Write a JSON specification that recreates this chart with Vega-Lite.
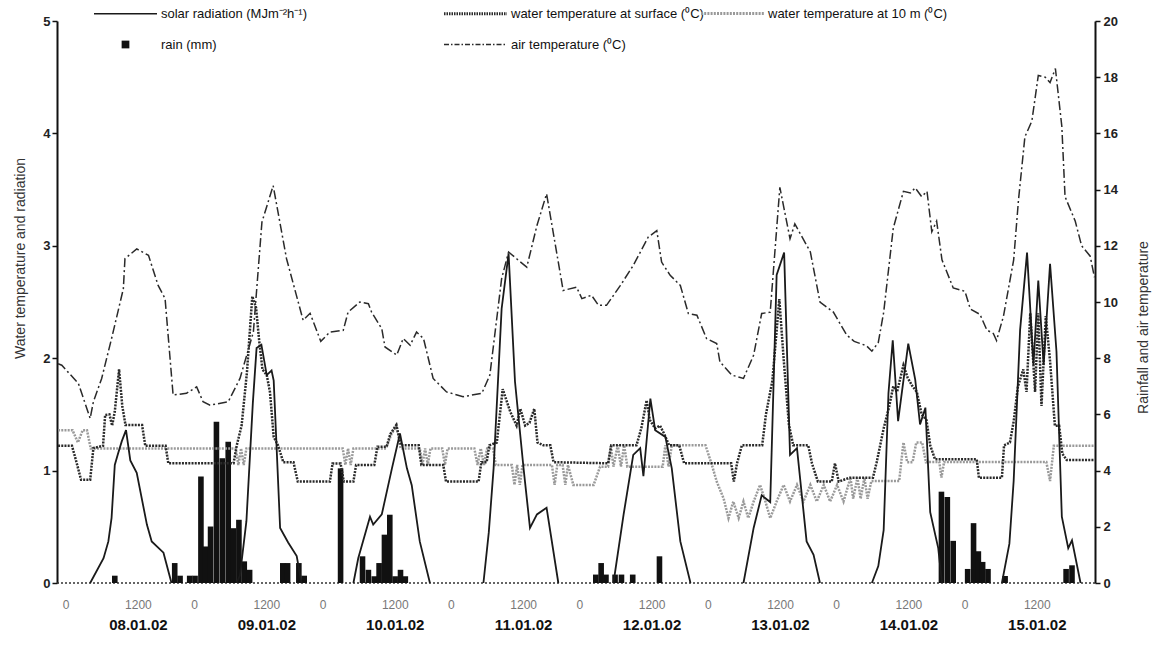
{
  "$schema": "https://vega.github.io/schema/vega-lite/v6.json",
  "width": 1038,
  "height": 562,
  "autosize": {"type": "none"},
  "padding": {"left": 57, "top": 21, "right": 58, "bottom": 72},
  "background": "white",
  "config": {"view": {"stroke": null}, "font": "Liberation Sans", "axis": {"grid": false}},
  "datasets": {
    "main": [
      {"s":"solar","d":1,"h":4.2,"val":0},{"s":"solar","d":1,"h":6.7,"val":0.22},{"s":"solar","d":1,"h":7.6,"val":0.37},{"s":"solar","d":1,"h":8.2,"val":0.58},{"s":"solar","d":1,"h":8.8,"val":1.05},{"s":"solar","d":1,"h":9.4,"val":1.15},{"s":"solar","d":1,"h":10.1,"val":1.26},{"s":"solar","d":1,"h":10.9,"val":1.36},{"s":"solar","d":1,"h":11.7,"val":1.09},{"s":"solar","d":1,"h":12.9,"val":0.98},{"s":"solar","d":1,"h":14.8,"val":0.52},{"s":"solar","d":1,"h":15.7,"val":0.37},{"s":"solar","d":1,"h":17.9,"val":0.27},{"s":"solar","d":1,"h":19.4,"val":0},
      {"s":"solar","d":2,"h":31.6,"val":0},{"s":"solar","d":2,"h":32.2,"val":0.07},{"s":"solar","d":2,"h":33.4,"val":0.55},{"s":"solar","d":2,"h":34.6,"val":1.6},{"s":"solar","d":2,"h":35.3,"val":2.09},{"s":"solar","d":2,"h":36.2,"val":2.12},{"s":"solar","d":2,"h":37.2,"val":1.85},{"s":"solar","d":2,"h":38.1,"val":1.89},{"s":"solar","d":2,"h":38.5,"val":1.8},{"s":"solar","d":2,"h":39.7,"val":0.49},{"s":"solar","d":2,"h":41.2,"val":0.36},{"s":"solar","d":2,"h":42.8,"val":0.24},{"s":"solar","d":2,"h":43.7,"val":0},
      {"s":"solar","d":3,"h":53.4,"val":0},{"s":"solar","d":3,"h":54.3,"val":0.22},{"s":"solar","d":3,"h":56.5,"val":0.59},{"s":"solar","d":3,"h":57.1,"val":0.52},{"s":"solar","d":3,"h":58.7,"val":0.61},{"s":"solar","d":3,"h":60.6,"val":1.02},{"s":"solar","d":3,"h":62.1,"val":1.33},{"s":"solar","d":3,"h":63.4,"val":1.02},{"s":"solar","d":3,"h":64.3,"val":0.87},{"s":"solar","d":3,"h":65.8,"val":0.37},{"s":"solar","d":3,"h":67.7,"val":0},
      {"s":"solar","d":4,"h":77.7,"val":0},{"s":"solar","d":4,"h":78.7,"val":0.45},{"s":"solar","d":4,"h":79.6,"val":1.02},{"s":"solar","d":4,"h":81.1,"val":2.44},{"s":"solar","d":4,"h":82.4,"val":2.93},{"s":"solar","d":4,"h":83.6,"val":1.79},{"s":"solar","d":4,"h":85.2,"val":1.02},{"s":"solar","d":4,"h":86.4,"val":0.49},{"s":"solar","d":4,"h":87.7,"val":0.61},{"s":"solar","d":4,"h":89.5,"val":0.67},{"s":"solar","d":4,"h":91.7,"val":0},
      {"s":"solar","d":5,"h":102.0,"val":0},{"s":"solar","d":5,"h":103.9,"val":0.61},{"s":"solar","d":5,"h":105.7,"val":1.14},{"s":"solar","d":5,"h":107.0,"val":1.2},{"s":"solar","d":5,"h":107.6,"val":0.95},{"s":"solar","d":5,"h":108.9,"val":1.64},{"s":"solar","d":5,"h":109.8,"val":1.36},{"s":"solar","d":5,"h":111.7,"val":1.3},{"s":"solar","d":5,"h":112.9,"val":1.02},{"s":"solar","d":5,"h":114.5,"val":0.37},{"s":"solar","d":5,"h":116.4,"val":0},
      {"s":"solar","d":6,"h":126.3,"val":0},{"s":"solar","d":6,"h":128.2,"val":0.49},{"s":"solar","d":6,"h":129.7,"val":0.78},{"s":"solar","d":6,"h":131.3,"val":0.72},{"s":"solar","d":6,"h":132.5,"val":2.74},{"s":"solar","d":6,"h":133.9,"val":2.94},{"s":"solar","d":6,"h":135.0,"val":1.14},{"s":"solar","d":6,"h":136.3,"val":1.2},{"s":"solar","d":6,"h":138.1,"val":0.37},{"s":"solar","d":6,"h":139.4,"val":0.25},{"s":"solar","d":6,"h":140.6,"val":0},
      {"s":"solar","d":7,"h":150.3,"val":0},{"s":"solar","d":7,"h":151.5,"val":0.15},{"s":"solar","d":7,"h":152.5,"val":0.47},{"s":"solar","d":7,"h":153.4,"val":1.69},{"s":"solar","d":7,"h":154.2,"val":2.16},{"s":"solar","d":7,"h":155.2,"val":1.44},{"s":"solar","d":7,"h":157.1,"val":2.13},{"s":"solar","d":7,"h":158.4,"val":1.81},{"s":"solar","d":7,"h":159.3,"val":1.41},{"s":"solar","d":7,"h":160.3,"val":1.56},{"s":"solar","d":7,"h":161.2,"val":0.63},{"s":"solar","d":7,"h":162.7,"val":0.31},{"s":"solar","d":7,"h":163.4,"val":0},
      {"s":"solar","d":8,"h":174.6,"val":0},{"s":"solar","d":8,"h":176.0,"val":0.35},{"s":"solar","d":8,"h":176.8,"val":0.91},{"s":"solar","d":8,"h":178.0,"val":2.25},{"s":"solar","d":8,"h":179.3,"val":2.94},{"s":"solar","d":8,"h":180.5,"val":1.94},{"s":"solar","d":8,"h":181.4,"val":2.69},{"s":"solar","d":8,"h":182.4,"val":1.94},{"s":"solar","d":8,"h":183.6,"val":2.84},{"s":"solar","d":8,"h":184.8,"val":2.06},{"s":"solar","d":8,"h":185.8,"val":0.59},{"s":"solar","d":8,"h":187.0,"val":0.31},{"s":"solar","d":8,"h":187.7,"val":0.38},{"s":"solar","d":8,"h":189.3,"val":0},

      {"s":"rain","h":8.8,"val":0.26},{"s":"rain","h":20.0,"val":0.71},{"s":"rain","h":21.0,"val":0.26},{"s":"rain","h":22.8,"val":0.26},{"s":"rain","h":23.8,"val":0.26},{"s":"rain","h":24.9,"val":3.79},{"s":"rain","h":25.8,"val":1.3},{"s":"rain","h":26.7,"val":2.01},{"s":"rain","h":27.8,"val":5.74},{"s":"rain","h":28.9,"val":4.44},{"s":"rain","h":30.0,"val":5.03},{"s":"rain","h":31.0,"val":1.95},{"s":"rain","h":32.0,"val":2.25},{"s":"rain","h":33.0,"val":0.77},{"s":"rain","h":34.0,"val":0.47},{"s":"rain","h":40.2,"val":0.71},{"s":"rain","h":41.1,"val":0.71},{"s":"rain","h":43.2,"val":0.71},{"s":"rain","h":44.2,"val":0.26},
      {"s":"rain","h":51.0,"val":4.08},{"s":"rain","h":55.1,"val":0.95},{"s":"rain","h":56.2,"val":0.47},{"s":"rain","h":57.3,"val":0.24},{"s":"rain","h":58.2,"val":0.71},{"s":"rain","h":59.2,"val":1.72},{"s":"rain","h":60.2,"val":2.43},{"s":"rain","h":61.2,"val":0.24},{"s":"rain","h":62.2,"val":0.47},{"s":"rain","h":63.1,"val":0.24},
      {"s":"rain","h":98.7,"val":0.3},{"s":"rain","h":99.7,"val":0.71},{"s":"rain","h":100.6,"val":0.3},{"s":"rain","h":102.3,"val":0.3},{"s":"rain","h":103.5,"val":0.3},{"s":"rain","h":105.6,"val":0.3},{"s":"rain","h":110.6,"val":0.95},
      {"s":"rain","h":163.3,"val":3.25},{"s":"rain","h":164.4,"val":3.06},{"s":"rain","h":165.5,"val":1.5},{"s":"rain","h":168.2,"val":0.5},{"s":"rain","h":169.3,"val":2.13},{"s":"rain","h":170.2,"val":1.13},{"s":"rain","h":171.0,"val":0.75},{"s":"rain","h":172.0,"val":0.5},{"s":"rain","h":175.2,"val":0.25},{"s":"rain","h":186.6,"val":0.5},{"s":"rain","h":187.7,"val":0.63},

      {"s":"air","h":-1.8,"val":7.8},{"s":"air","h":-1.1,"val":7.75},{"s":"air","h":2.0,"val":7.1},{"s":"air","h":4.2,"val":5.86},{"s":"air","h":4.8,"val":6.45},{"s":"air","h":6.35,"val":7.28},{"s":"air","h":8.2,"val":8.7},{"s":"air","h":10.4,"val":10.47},{"s":"air","h":10.7,"val":11.54},{"s":"air","h":12.9,"val":11.89},{"s":"air","h":15.1,"val":11.66},{"s":"air","h":16.9,"val":10.59},{"s":"air","h":18.2,"val":10.12},{"s":"air","h":19.7,"val":6.69},{"s":"air","h":22.2,"val":6.75},{"s":"air","h":24.1,"val":6.98},{"s":"air","h":25.3,"val":6.45},{"s":"air","h":26.6,"val":6.33},{"s":"air","h":30.0,"val":6.45},{"s":"air","h":32.2,"val":7.28},{"s":"air","h":34.7,"val":8.93},{"s":"air","h":36.3,"val":12.84},{"s":"air","h":38.4,"val":14.14},{"s":"air","h":40.9,"val":11.54},{"s":"air","h":44.0,"val":9.35},{"s":"air","h":45.3,"val":9.6},{"s":"air","h":47.3,"val":8.6},{"s":"air","h":49.0,"val":8.93},{"s":"air","h":51.5,"val":8.99},{"s":"air","h":52.4,"val":9.64},{"s":"air","h":54.6,"val":10.0},{"s":"air","h":56.2,"val":9.94},{"s":"air","h":56.8,"val":9.64},{"s":"air","h":58.7,"val":9.05},{"s":"air","h":59.3,"val":8.4},{"s":"air","h":61.5,"val":8.11},{"s":"air","h":62.7,"val":8.7},{"s":"air","h":64.0,"val":8.46},{"s":"air","h":65.2,"val":8.93},{"s":"air","h":66.5,"val":8.7},{"s":"air","h":68.3,"val":7.28},{"s":"air","h":70.8,"val":6.8},{"s":"air","h":73.9,"val":6.63},{"s":"air","h":77.4,"val":6.75},{"s":"air","h":78.9,"val":7.4},{"s":"air","h":81.1,"val":10.83},{"s":"air","h":82.4,"val":11.78},{"s":"air","h":83.9,"val":11.54},{"s":"air","h":85.8,"val":11.24},{"s":"air","h":87.7,"val":12.72},{"s":"air","h":89.5,"val":13.85},{"s":"air","h":92.6,"val":10.41},{"s":"air","h":95.1,"val":10.53},{"s":"air","h":96.1,"val":10.12},{"s":"air","h":97.9,"val":10.24},{"s":"air","h":99.2,"val":9.88},{"s":"air","h":100.7,"val":9.88},{"s":"air","h":103.3,"val":10.59},{"s":"air","h":105.7,"val":11.3},{"s":"air","h":108.5,"val":12.31},{"s":"air","h":110.1,"val":12.54},{"s":"air","h":111.0,"val":11.42},{"s":"air","h":112.6,"val":10.95},{"s":"air","h":114.5,"val":10.59},{"s":"air","h":116.0,"val":9.59},{"s":"air","h":117.6,"val":9.53},{"s":"air","h":119.4,"val":8.7},{"s":"air","h":121.3,"val":8.52},{"s":"air","h":121.9,"val":7.87},{"s":"air","h":124.1,"val":7.4},{"s":"air","h":126.3,"val":7.28},{"s":"air","h":128.2,"val":8.11},{"s":"air","h":129.7,"val":9.59},{"s":"air","h":131.3,"val":9.64},{"s":"air","h":133.1,"val":14.08},{"s":"air","h":135.0,"val":12.25},{"s":"air","h":135.9,"val":12.78},{"s":"air","h":138.8,"val":11.78},{"s":"air","h":140.6,"val":10.0},{"s":"air","h":143.1,"val":9.64},{"s":"air","h":145.6,"val":8.82},{"s":"air","h":147.0,"val":8.6},{"s":"air","h":149.3,"val":8.44},{"s":"air","h":150.3,"val":8.25},{"s":"air","h":151.5,"val":8.56},{"s":"air","h":152.5,"val":9.63},{"s":"air","h":154.3,"val":12.63},{"s":"air","h":156.2,"val":13.94},{"s":"air","h":157.5,"val":13.88},{"s":"air","h":158.4,"val":14.06},{"s":"air","h":159.6,"val":13.75},{"s":"air","h":160.6,"val":13.94},{"s":"air","h":161.5,"val":12.5},{"s":"air","h":162.4,"val":12.88},{"s":"air","h":163.4,"val":11.5},{"s":"air","h":165.5,"val":10.5},{"s":"air","h":167.7,"val":10.38},{"s":"air","h":168.7,"val":9.75},{"s":"air","h":170.5,"val":9.56},{"s":"air","h":171.8,"val":9.0},{"s":"air","h":173.0,"val":8.88},{"s":"air","h":173.6,"val":8.63},{"s":"air","h":174.9,"val":9.5},{"s":"air","h":176.8,"val":11.5},{"s":"air","h":177.7,"val":13.63},{"s":"air","h":178.9,"val":15.88},{"s":"air","h":180.2,"val":16.44},{"s":"air","h":181.4,"val":18.06},{"s":"air","h":182.7,"val":18.0},{"s":"air","h":183.6,"val":17.81},{"s":"air","h":184.6,"val":18.31},{"s":"air","h":185.8,"val":16.25},{"s":"air","h":186.4,"val":13.75},{"s":"air","h":188.3,"val":12.88},{"s":"air","h":189.5,"val":12.0},{"s":"air","h":191.1,"val":11.63},{"s":"air","h":191.9,"val":10.88},

      {"s":"surface","h":-1.8,"val":4.88},{"s":"surface","h":0.8,"val":4.88},{"s":"surface","h":1.5,"val":4.4},{"s":"surface","h":2.5,"val":3.67},{"s":"surface","h":4.2,"val":3.67},{"s":"surface","h":4.8,"val":4.8},{"s":"surface","h":6.6,"val":4.88},{"s":"surface","h":7.0,"val":5.98},{"s":"surface","h":7.8,"val":6.0},{"s":"surface","h":8.3,"val":5.6},{"s":"surface","h":8.8,"val":6.1},{"s":"surface","h":9.6,"val":7.6},{"s":"surface","h":10.2,"val":6.3},{"s":"surface","h":10.8,"val":5.62},{"s":"surface","h":13.9,"val":5.62},{"s":"surface","h":14.5,"val":4.88},{"s":"surface","h":18.3,"val":4.88},{"s":"surface","h":18.8,"val":4.26},{"s":"surface","h":31.0,"val":4.26},{"s":"surface","h":31.6,"val":4.9},{"s":"surface","h":32.5,"val":5.6},{"s":"surface","h":33.5,"val":7.5},{"s":"surface","h":34.5,"val":10.2},{"s":"surface","h":35.2,"val":9.8},{"s":"surface","h":35.8,"val":8.6},{"s":"surface","h":36.4,"val":7.6},{"s":"surface","h":37.2,"val":7.4},{"s":"surface","h":37.8,"val":6.8},{"s":"surface","h":38.5,"val":5.2},{"s":"surface","h":39.3,"val":4.9},{"s":"surface","h":40.3,"val":4.3},{"s":"surface","h":42.2,"val":4.3},{"s":"surface","h":43.0,"val":3.61},{"s":"surface","h":49.0,"val":3.61},{"s":"surface","h":49.5,"val":4.25},{"s":"surface","h":51.0,"val":4.25},{"s":"surface","h":51.6,"val":3.61},{"s":"surface","h":53.4,"val":3.61},{"s":"surface","h":53.9,"val":4.2},{"s":"surface","h":57.3,"val":4.2},{"s":"surface","h":57.9,"val":4.85},{"s":"surface","h":59.6,"val":4.85},{"s":"surface","h":60.3,"val":5.3},{"s":"surface","h":61.4,"val":5.62},{"s":"surface","h":62.3,"val":4.9},{"s":"surface","h":65.6,"val":4.9},{"s":"surface","h":66.1,"val":4.2},{"s":"surface","h":70.2,"val":4.2},{"s":"surface","h":70.7,"val":3.61},{"s":"surface","h":76.8,"val":3.61},{"s":"surface","h":77.3,"val":4.3},{"s":"surface","h":78.3,"val":4.3},{"s":"surface","h":78.8,"val":4.9},{"s":"surface","h":80.2,"val":5.0},{"s":"surface","h":81.3,"val":6.9},{"s":"surface","h":82.7,"val":6.1},{"s":"surface","h":83.9,"val":5.6},{"s":"surface","h":84.6,"val":6.2},{"s":"surface","h":85.5,"val":5.6},{"s":"surface","h":86.3,"val":5.7},{"s":"surface","h":87.2,"val":6.2},{"s":"surface","h":87.8,"val":5.0},{"s":"surface","h":88.9,"val":4.9},{"s":"surface","h":90.2,"val":4.9},{"s":"surface","h":90.8,"val":4.3},{"s":"surface","h":101.0,"val":4.26},{"s":"surface","h":101.6,"val":4.9},{"s":"surface","h":106.3,"val":4.9},{"s":"surface","h":107.2,"val":5.5},{"s":"surface","h":108.2,"val":6.5},{"s":"surface","h":108.8,"val":5.8},{"s":"surface","h":109.8,"val":5.5},{"s":"surface","h":110.7,"val":5.6},{"s":"surface","h":111.5,"val":5.3},{"s":"surface","h":112.4,"val":4.9},{"s":"surface","h":114.3,"val":4.9},{"s":"surface","h":115.2,"val":4.26},{"s":"surface","h":124.0,"val":4.26},{"s":"surface","h":124.5,"val":3.61},{"s":"surface","h":125.1,"val":4.26},{"s":"surface","h":126.0,"val":4.9},{"s":"surface","h":129.8,"val":4.9},{"s":"surface","h":130.5,"val":6.0},{"s":"surface","h":131.7,"val":7.2},{"s":"surface","h":133.0,"val":10.1},{"s":"surface","h":133.8,"val":8.0},{"s":"surface","h":134.8,"val":5.62},{"s":"surface","h":135.6,"val":4.9},{"s":"surface","h":138.4,"val":4.9},{"s":"surface","h":139.1,"val":4.26},{"s":"surface","h":140.2,"val":3.61},{"s":"surface","h":142.8,"val":3.61},{"s":"surface","h":143.4,"val":4.26},{"s":"surface","h":144.1,"val":3.61},{"s":"surface","h":146.2,"val":3.75},{"s":"surface","h":150.5,"val":3.75},{"s":"surface","h":151.2,"val":4.3},{"s":"surface","h":152.5,"val":5.5},{"s":"surface","h":153.5,"val":6.25},{"s":"surface","h":154.3,"val":7.0},{"s":"surface","h":155.0,"val":6.8},{"s":"surface","h":156.2,"val":7.75},{"s":"surface","h":157.0,"val":7.3},{"s":"surface","h":157.9,"val":7.0},{"s":"surface","h":158.7,"val":6.8},{"s":"surface","h":159.6,"val":6.0},{"s":"surface","h":160.5,"val":5.8},{"s":"surface","h":161.2,"val":4.9},{"s":"surface","h":162.1,"val":4.4},{"s":"surface","h":169.9,"val":4.4},{"s":"surface","h":170.3,"val":3.75},{"s":"surface","h":174.6,"val":3.75},{"s":"surface","h":175.0,"val":4.9},{"s":"surface","h":176.1,"val":5.0},{"s":"surface","h":176.8,"val":5.75},{"s":"surface","h":177.6,"val":7.0},{"s":"surface","h":178.6,"val":7.6},{"s":"surface","h":179.2,"val":6.8},{"s":"surface","h":179.9,"val":9.6},{"s":"surface","h":180.8,"val":6.8},{"s":"surface","h":181.4,"val":9.6},{"s":"surface","h":182.0,"val":6.3},{"s":"surface","h":182.8,"val":9.5},{"s":"surface","h":183.6,"val":7.9},{"s":"surface","h":184.5,"val":5.6},{"s":"surface","h":185.3,"val":5.6},{"s":"surface","h":185.9,"val":4.6},{"s":"surface","h":186.7,"val":4.38},{"s":"surface","h":191.9,"val":4.38},

      {"s":"10m","h":-1.8,"val":5.44},{"s":"10m","h":0.9,"val":5.44},{"s":"10m","h":1.9,"val":5.0},{"s":"10m","h":2.8,"val":5.44},{"s":"10m","h":3.6,"val":5.44},{"s":"10m","h":4.3,"val":4.79},{"s":"10m","h":31.4,"val":4.79},{"s":"10m","h":31.9,"val":4.2},{"s":"10m","h":32.4,"val":4.79},{"s":"10m","h":32.9,"val":4.2},{"s":"10m","h":33.4,"val":4.79},{"s":"10m","h":51.4,"val":4.79},{"s":"10m","h":51.9,"val":4.2},{"s":"10m","h":52.4,"val":4.79},{"s":"10m","h":52.9,"val":4.2},{"s":"10m","h":53.4,"val":4.79},{"s":"10m","h":59.5,"val":4.79},{"s":"10m","h":60.5,"val":5.3},{"s":"10m","h":61.5,"val":5.6},{"s":"10m","h":62.2,"val":4.79},{"s":"10m","h":65.8,"val":4.79},{"s":"10m","h":66.3,"val":4.2},{"s":"10m","h":66.8,"val":4.79},{"s":"10m","h":67.3,"val":4.2},{"s":"10m","h":67.8,"val":4.79},{"s":"10m","h":70.0,"val":4.79},{"s":"10m","h":70.5,"val":4.2},{"s":"10m","h":71.0,"val":4.79},{"s":"10m","h":76.0,"val":4.79},{"s":"10m","h":76.6,"val":4.2},{"s":"10m","h":77.2,"val":4.79},{"s":"10m","h":77.8,"val":4.2},{"s":"10m","h":78.4,"val":4.79},{"s":"10m","h":79.5,"val":4.79},{"s":"10m","h":80.0,"val":4.2},{"s":"10m","h":83.0,"val":4.2},{"s":"10m","h":83.5,"val":3.49},{"s":"10m","h":84.0,"val":4.2},{"s":"10m","h":84.5,"val":3.49},{"s":"10m","h":85.0,"val":4.2},{"s":"10m","h":90.5,"val":4.2},{"s":"10m","h":91.0,"val":3.49},{"s":"10m","h":91.5,"val":4.2},{"s":"10m","h":92.5,"val":4.2},{"s":"10m","h":93.0,"val":3.49},{"s":"10m","h":93.5,"val":4.2},{"s":"10m","h":94.5,"val":3.49},{"s":"10m","h":98.3,"val":3.49},{"s":"10m","h":99.5,"val":4.14},{"s":"10m","h":101.0,"val":4.14},{"s":"10m","h":101.5,"val":4.9},{"s":"10m","h":102.0,"val":4.14},{"s":"10m","h":102.8,"val":4.9},{"s":"10m","h":103.4,"val":4.14},{"s":"10m","h":104.0,"val":4.9},{"s":"10m","h":104.6,"val":4.14},{"s":"10m","h":111.2,"val":4.14},{"s":"10m","h":111.7,"val":4.9},{"s":"10m","h":112.3,"val":4.14},{"s":"10m","h":112.9,"val":4.9},{"s":"10m","h":119.2,"val":4.9},{"s":"10m","h":120.4,"val":4.2},{"s":"10m","h":121.3,"val":3.61},{"s":"10m","h":122.6,"val":3.0},{"s":"10m","h":123.5,"val":2.31},{"s":"10m","h":124.4,"val":2.9},{"s":"10m","h":125.4,"val":2.31},{"s":"10m","h":126.3,"val":2.9},{"s":"10m","h":127.2,"val":2.31},{"s":"10m","h":128.2,"val":2.9},{"s":"10m","h":129.4,"val":3.49},{"s":"10m","h":130.4,"val":2.9},{"s":"10m","h":131.3,"val":2.31},{"s":"10m","h":132.5,"val":2.9},{"s":"10m","h":133.8,"val":3.49},{"s":"10m","h":135.0,"val":2.9},{"s":"10m","h":136.3,"val":3.49},{"s":"10m","h":137.5,"val":2.9},{"s":"10m","h":138.8,"val":3.49},{"s":"10m","h":140.0,"val":2.9},{"s":"10m","h":141.3,"val":3.49},{"s":"10m","h":142.5,"val":2.9},{"s":"10m","h":143.8,"val":3.49},{"s":"10m","h":145.0,"val":2.9},{"s":"10m","h":146.3,"val":3.75},{"s":"10m","h":146.8,"val":3.0},{"s":"10m","h":147.6,"val":3.75},{"s":"10m","h":148.2,"val":3.0},{"s":"10m","h":148.9,"val":3.75},{"s":"10m","h":149.5,"val":3.0},{"s":"10m","h":150.2,"val":3.63},{"s":"10m","h":155.4,"val":3.63},{"s":"10m","h":156.2,"val":5.0},{"s":"10m","h":156.9,"val":4.3},{"s":"10m","h":157.9,"val":4.3},{"s":"10m","h":158.6,"val":5.0},{"s":"10m","h":159.7,"val":5.0},{"s":"10m","h":160.4,"val":4.3},{"s":"10m","h":162.9,"val":4.31},{"s":"10m","h":163.3,"val":3.75},{"s":"10m","h":163.8,"val":4.31},{"s":"10m","h":182.9,"val":4.31},{"s":"10m","h":183.6,"val":3.63},{"s":"10m","h":184.3,"val":4.88},{"s":"10m","h":191.9,"val":4.88}
    ]
  },
  "data": {"name": "main"},
  "resolve": {"scale": {"y": "independent"}, "axis": {"x": "independent"}},
  "layer": [
    {
      "data": {"values": [{"base": 0}]},
      "mark": {"type": "rule", "strokeDash": [2, 2], "color": "#333", "strokeWidth": 1.5},
      "encoding": {"y": {"field": "base", "type": "quantitative", "scale": {"domain": [0, 5], "nice": false}, "axis": null}}
    },
    {
      "encoding": {
        "x": {
          "field": "h", "type": "quantitative",
          "scale": {"domain": [-2, 192], "nice": false, "zero": false, "padding": 0},
          "axis": {
            "orient": "bottom", "title": null, "values": [12, 36, 60, 84, 108, 132, 156, 180],
            "labelExpr": "['08.01.02','09.01.02','10.01.02','11.01.02','12.01.02','13.01.02','14.01.02','15.01.02'][floor(datum.value/24)]",
            "domain": false, "ticks": false, "tickSize": 0, "grid": false,
            "labelPadding": 34, "labelFont": "Liberation Sans", "labelFontSize": 15, "labelFontWeight": "bold",
            "labelColor": "#111", "labelOffset": 6, "labelOverlap": false, "labelFlush": false
          }
        },
        "y": {
          "field": "val", "type": "quantitative",
          "scale": {"domain": [0, 20], "nice": false},
          "axis": {
            "orient": "right", "values": [0, 2, 4, 6, 8, 10, 12, 14, 16, 18, 20],
            "domainColor": "#111", "domainWidth": 2, "tickColor": "#111", "tickSize": 5, "tickWidth": 1.5,
            "labelFont": "Liberation Sans", "labelFontSize": 13, "labelFontWeight": "bold", "labelColor": "#222", "labelPadding": 3,
            "title": "Rainfall and air temperature", "titleFont": "Liberation Sans", "titleFontSize": 14, "titleFontWeight": "normal",
            "titleColor": "#333", "titleAngle": 270, "titleBaseline": "top", "titleAlign": "center", "titleX": 41, "titleY": 306, "grid": false
          }
        }
      },
      "layer": [
        {
          "transform": [{"filter": "datum.s === 'rain'"}],
          "mark": {"type": "bar", "width": 5.6},
          "encoding": {
            "color": {
              "field": "s", "type": "nominal",
              "scale": {"domain": ["solar", "surface", "rain", "air"], "range": ["#1a1a1a", "#2a2a2a", "#111111", "#2a2a2a"]},
              "legend": {
                "title": null, "orient": "none", "legendX": 62, "legendY": -14, "columns": 2, "direction": "horizontal",
                "columnPadding": 131, "rowPadding": 17, "padding": 0, "labelFont": "Liberation Sans", "labelFontSize": 13,
                "labelColor": "#111", "labelOffset": 29, "symbolSize": 100, "labelLimit": 500,
                "labelExpr": "datum.value === 'solar' ? 'solar radiation (MJm⁻²h⁻¹)' : datum.value === 'surface' ? 'water temperature at surface (⁰C)' : datum.value === 'rain' ? 'rain (mm)' : 'air temperature (⁰C)'",
                "encode": {
                  "symbols": {
                    "update": {
                      "shape": {"signal": "datum.value === 'rain' ? 'square' : 'M-6.3,0H6.3'"},
                      "size": {"signal": "datum.value === 'rain' ? 60 : 100"},
                      "fill": {"signal": "datum.value === 'rain' ? '#111' : 'transparent'"},
                      "stroke": {"signal": "datum.value === 'rain' ? '#111' : datum.value === 'solar' ? '#999' : '#222'"},
                      "strokeWidth": {"signal": "datum.value === 'rain' ? 0 : (datum.value === 'solar' || datum.value === 'air') ? 1.5 : 3"},
                      "strokeDash": {"signal": "datum.value === 'air' ? [5, 2, 1.5, 2] : datum.value === 'surface' ? [1.5, 1] : [1, 0]"},
                      "opacity": {"value": 1}
                    }
                  }
                }
              }
            }
          }
        },
        {
          "transform": [{"filter": "datum.s === '10m'"}],
          "mark": {"type": "line", "color": "#9a9a9a", "strokeWidth": 2.5},
          "encoding": {
            "strokeDash": {
              "field": "s", "type": "nominal",
              "scale": {"domain": ["10m"], "range": [[2, 1.2]]},
              "legend": {
                "title": null, "orient": "none", "legendX": 669, "legendY": -14, "padding": 0,
                "labelFont": "Liberation Sans", "labelFontSize": 13, "labelColor": "#111", "labelOffset": 29, "symbolSize": 100, "labelLimit": 500,
                "symbolType": "M-6.3,0H6.3", "symbolStrokeColor": "#999", "symbolStrokeWidth": 3, "symbolDash": [1.5, 1], "symbolFillColor": "transparent",
                "labelExpr": "'water temperature at 10 m (⁰C)'",
                "encode": {
                  "symbols": {
                    "update": {
                      "shape": {"signal": "'M-6.3,0H6.3'"},
                      "size": {"signal": "100"},
                      "fill": {"signal": "'transparent'"},
                      "stroke": {"signal": "'#999'"},
                      "strokeWidth": {"signal": "3"},
                      "strokeDash": {"signal": "[1.5, 1]"},
                      "opacity": {"value": 1}
                    }
                  }
                }
              }
            }
          }
        },
        {
          "transform": [{"filter": "datum.s === 'surface'"}],
          "mark": {"type": "line", "strokeDash": [2, 1.2], "strokeWidth": 2.5},
          "encoding": {"color": {"field": "s", "type": "nominal", "scale": {"domain": ["solar", "surface", "rain", "air"], "range": ["#1a1a1a", "#2a2a2a", "#111111", "#2a2a2a"]}}}
        },
        {
          "transform": [{"filter": "datum.s === 'air'"}],
          "mark": {"type": "line", "strokeDash": [9, 3, 2, 3], "strokeWidth": 1.5},
          "encoding": {"color": {"field": "s", "type": "nominal", "scale": {"domain": ["solar", "surface", "rain", "air"], "range": ["#1a1a1a", "#2a2a2a", "#111111", "#2a2a2a"]}}}
        }
      ]
    },
    {
      "transform": [{"filter": "datum.s === 'solar'"}],
      "mark": {"type": "line", "strokeWidth": 1.8},
      "encoding": {
        "x": {
          "field": "h", "type": "quantitative",
          "scale": {"domain": [-2, 192], "nice": false, "zero": false, "padding": 0},
          "axis": {
            "orient": "bottom", "title": null, "values": [0, 12, 24, 36, 48, 60, 72, 84, 96, 108, 120, 132, 144, 156, 168, 180],
            "labelExpr": "datum.value % 24 === 0 ? '0' : '1200'",
            "domain": false, "ticks": false, "tickSize": 0, "grid": false,
            "labelPadding": 16, "labelFont": "Liberation Sans", "labelFontSize": 12, "labelColor": "#777",
            "labelOffset": {"condition": {"test": "datum.value % 24 === 12", "value": 6}, "value": -2},
            "labelOverlap": false, "labelFlush": false
          }
        },
        "y": {
          "field": "val", "type": "quantitative",
          "scale": {"domain": [0, 5], "nice": false},
          "axis": {
            "orient": "left", "values": [0, 1, 2, 3, 4, 5],
            "domainColor": "#111", "domainWidth": 2, "tickColor": "#111", "tickSize": 5, "tickWidth": 1.5,
            "labelFont": "Liberation Sans", "labelFontSize": 13, "labelFontWeight": "bold", "labelColor": "#222", "labelPadding": 2,
            "title": "Water temperature and radiation", "titleFont": "Liberation Sans", "titleFontSize": 14, "titleFontWeight": "normal",
            "titleColor": "#333", "titleAngle": 270, "titleBaseline": "bottom", "titleAlign": "center", "titleX": -30, "titleY": 237, "grid": false
          }
        },
        "color": {
          "field": "s", "type": "nominal",
          "scale": {"domain": ["solar", "surface", "rain", "air"], "range": ["#1a1a1a", "#2a2a2a", "#111111", "#2a2a2a"]}
        },
        "detail": {"field": "d", "type": "nominal"}
      }
    }
  ]
}
